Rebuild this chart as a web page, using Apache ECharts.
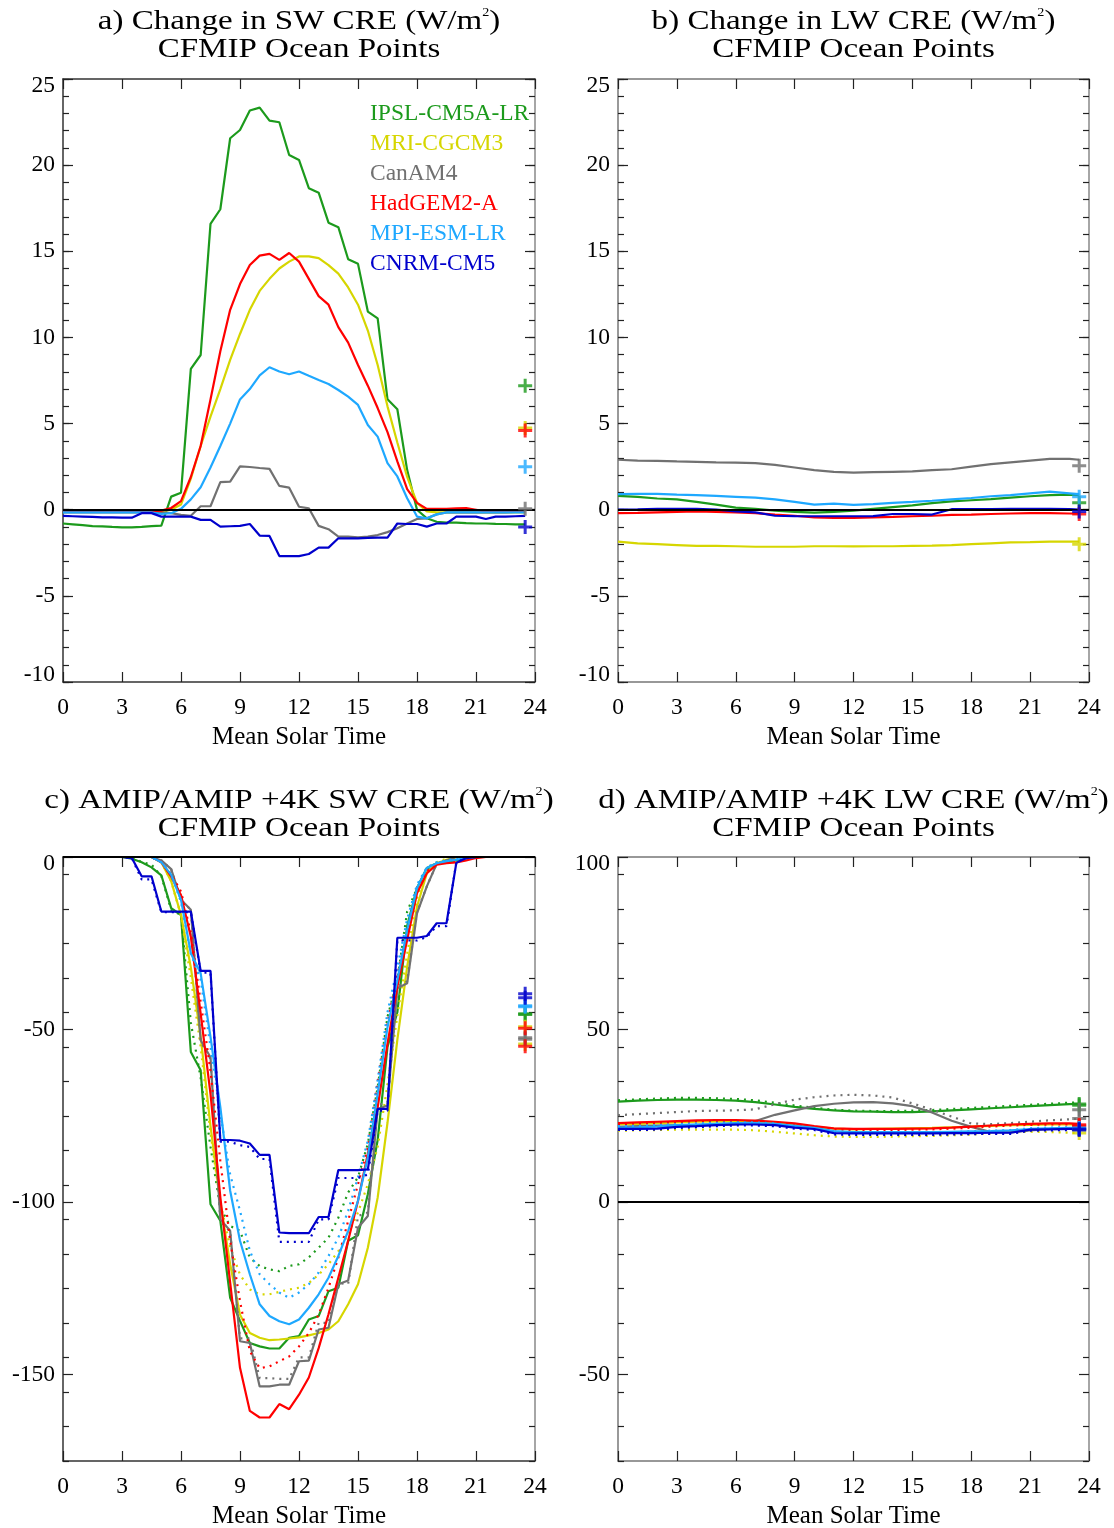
<!DOCTYPE html>
<html>
<head>
<meta charset="utf-8">
<script src="https://cdn.jsdelivr.net/npm/echarts@6/dist/echarts.min.js"></script>
<style>
  html, body { margin: 0; padding: 0; background: #fff; }
  #chart { width: 1114px; height: 1528px; }
</style>
</head>
<body>
<div id="chart"></div>
<script>
// ---- data ----
const HALF_HOURS = [0,0.5,1,1.5,2,2.5,3,3.5,4,4.5,5,5.5,6,6.5,7,7.5,8,8.5,9,9.5,10,10.5,11,11.5,
                    12,12.5,13,13.5,14,14.5,15,15.5,16,16.5,17,17.5,18,18.5,19,19.5,20,20.5,21,21.5,22,22.5,23,23.5];
const HOURS = [0,1,2,3,4,5,6,7,8,9,10,11,12,13,14,15,16,17,18,19,20,21,22,23,23.5];

const MODELS = ['IPSL-CM5A-LR', 'MRI-CGCM3', 'CanAM4', 'HadGEM2-A', 'MPI-ESM-LR', 'CNRM-CM5'];
const COLORS = ['#1c9a1c', '#d6d600', '#717171', '#ff0000', '#1ea8ff', '#0000cc'];

const X_TICKS = [0, 3, 6, 9, 12, 15, 18, 21, 24];
const CRE_CHANGE_TICKS = [-10, -5, 0, 5, 10, 15, 20, 25];
const SW_CRE_TICKS = [-150, -100, -50, 0];
const LW_CRE_TICKS = [-50, 0, 50, 100];

// a) change in SW CRE, half-hourly
const SW_CHANGE_IPSL = [-0.8,-0.85,-0.9,-0.95,-0.97,-1.0,-1.02,-1.03,-1.0,-0.95,-0.92,0.76,0.99,8.17,8.98,16.59,17.44,21.56,
  22.04,23.17,23.34,22.58,22.49,20.59,20.3,18.66,18.4,16.66,16.4,14.54,14.27,11.5,11.11,6.41,5.83,2.3,0.0,-0.5,
  -0.7,-0.75,-0.75,-0.78,-0.8,-0.8,-0.82,-0.83,-0.85,-0.85];
const SW_CHANGE_MRI = [-0.1,-0.1,-0.1,-0.1,-0.1,-0.1,-0.1,-0.1,-0.1,-0.1,-0.1,0.0,0.3,1.8,3.7,5.4,7.0,8.7,
  10.2,11.6,12.7,13.4,14.0,14.4,14.7,14.7,14.6,14.2,13.7,12.9,11.9,10.4,8.4,6.0,3.9,1.9,0.4,-0.1,
  -0.15,-0.15,-0.15,-0.15,-0.15,-0.15,-0.15,-0.15,-0.15,-0.15];
const SW_CHANGE_CANAM = [-0.15,-0.15,-0.15,-0.15,-0.15,-0.15,-0.15,-0.15,-0.15,-0.15,-0.15,-0.2,-0.3,-0.35,0.2,0.2,1.6,1.63,
  2.52,2.48,2.42,2.37,1.38,1.28,0.17,0.08,-0.94,-1.13,-1.56,-1.56,-1.6,-1.56,-1.47,-1.3,-1.08,-0.8,-0.54,-0.5,
  -0.27,-0.15,-0.15,-0.15,-0.15,-0.15,-0.15,-0.15,-0.12,-0.1];
const SW_CHANGE_HADGEM = [-0.1,-0.1,-0.1,-0.1,-0.1,-0.1,-0.1,-0.1,-0.1,-0.1,-0.05,0.1,0.5,1.9,3.7,6.4,9.2,11.6,
  13.1,14.2,14.75,14.85,14.5,14.9,14.4,13.4,12.4,11.9,10.6,9.7,8.4,7.2,5.9,4.5,2.8,1.2,0.4,0.05,
  0.05,0.05,0.08,0.1,0.0,-0.1,-0.1,-0.1,-0.1,-0.1];
const SW_CHANGE_MPI = [-0.15,-0.15,-0.15,-0.15,-0.15,-0.15,-0.15,-0.15,-0.15,-0.15,-0.25,-0.2,0.05,0.6,1.3,2.45,3.7,5.0,
  6.4,7.0,7.8,8.27,8.02,7.86,8.02,7.77,7.53,7.3,6.95,6.56,6.08,4.92,4.24,2.7,1.93,0.67,-0.4,-0.5,
  -0.27,-0.16,-0.15,-0.15,-0.15,-0.15,-0.15,-0.15,-0.15,-0.15];
const SW_CHANGE_CNRM = [-0.36,-0.38,-0.4,-0.42,-0.44,-0.45,-0.46,-0.46,-0.2,-0.2,-0.4,-0.4,-0.4,-0.4,-0.59,-0.59,-0.98,-0.96,
  -0.94,-0.83,-1.5,-1.52,-2.69,-2.69,-2.69,-2.57,-2.2,-2.2,-1.66,-1.66,-1.66,-1.64,-1.62,-1.62,-0.8,-0.83,-0.83,-0.98,
  -0.8,-0.8,-0.4,-0.4,-0.4,-0.54,-0.4,-0.4,-0.38,-0.36];
const SW_CHANGE_MEAN = [7.2, 4.75, 0.05, 4.6, 2.5, -1.0];

// b) change in LW CRE, hourly
const LW_CHANGE_IPSL = [0.8,0.75,0.65,0.6,0.45,0.3,0.12,0.05,-0.05,-0.12,-0.17,-0.12,-0.05,0.05,0.15,0.25,0.38,0.48,0.55,0.62,0.7,0.78,0.85,0.88,0.85];
const LW_CHANGE_MRI = [-1.85,-1.95,-2.0,-2.05,-2.1,-2.1,-2.12,-2.15,-2.15,-2.15,-2.12,-2.12,-2.13,-2.12,-2.12,-2.1,-2.08,-2.05,-2.0,-1.95,-1.9,-1.88,-1.85,-1.85,-1.85];
const LW_CHANGE_CANAM = [2.9,2.85,2.83,2.8,2.78,2.75,2.73,2.7,2.6,2.45,2.3,2.2,2.15,2.18,2.2,2.22,2.3,2.35,2.5,2.65,2.75,2.85,2.95,2.95,2.9];
const LW_CHANGE_HADGEM = [-0.2,-0.18,-0.15,-0.12,-0.1,-0.12,-0.15,-0.2,-0.28,-0.35,-0.45,-0.48,-0.48,-0.45,-0.42,-0.38,-0.35,-0.3,-0.28,-0.25,-0.22,-0.2,-0.2,-0.22,-0.23];
const LW_CHANGE_MPI = [0.9,0.92,0.92,0.88,0.85,0.8,0.75,0.7,0.6,0.45,0.3,0.35,0.28,0.32,0.4,0.45,0.52,0.6,0.68,0.78,0.85,0.95,1.05,0.95,0.9];
const LW_CHANGE_CNRM = [0.0,0.02,0.05,0.05,0.05,0.0,-0.1,-0.15,-0.35,-0.37,-0.38,-0.38,-0.38,-0.37,-0.25,-0.25,-0.28,0.03,0.03,0.03,0.05,0.05,0.05,0.03,0.0];
const LW_CHANGE_MEAN = [0.4, -2.0, 2.55, -0.25, 0.75, -0.1];

// c) SW CRE, AMIP (solid) and AMIP+4K (dotted), half-hourly
const SW_IPSL_AMIP = [0,0,0,0,0,0,0,-0.5,-1.5,-3,-5.3,-14.8,-16.8,-56.5,-61.8,-100.6,-105.4,-127.7,
  -134.4,-140.8,-141.8,-142.4,-142.4,-139.3,-138.8,-134,-133,-125.8,-124.8,-111.2,-109.6,-97.7,-82,-55,-45,-20,-9,-3.2,
  -1.8,-1.3,-1.0,-0.5,0,0,0,0,0,0];
const SW_IPSL_P4K = [0,0,0,0,0,0,0,0,-1.5,-2.2,-5.5,-15.3,-16.8,-48,-64,-84,-101.6,-106.9,
  -108.3,-116.1,-118.5,-119.5,-120,-118.5,-118,-116,-113.2,-110.3,-104.5,-97.2,-92.8,-83.1,-66.7,-46.3,-35.7,-15.8,-9,-3.7,
  -1.8,-1.2,-0.8,-0.3,0,0,0,0,0,0];
const SW_MRI_AMIP = [0,0,0,0,0,0,0,0,0,0,-1.5,-7,-16.8,-32,-52,-78,-100,-118,
  -132.6,-137.9,-139.3,-140,-139.8,-139.5,-139.2,-138.6,-137.9,-136.9,-134.5,-129.6,-123.8,-113.2,-98.7,-77,-53,-31.8,-14.4,-4.7,
  -1.8,-0.8,0,0,0,0,0,0,0,0];
const SW_MRI_P4K = [0,0,0,0,0,0,0,0,0,0,-1.5,-7,-17,-35,-55,-80,-100,-113,
  -121,-125.3,-126.7,-126.7,-126,-125.3,-124.8,-123.4,-121,-118,-114.2,-109.3,-103,-94.8,-84,-66,-46,-28,-12,-4,
  -1.5,-0.5,0,0,0,0,0,0,0,0];
const SW_CANAM_AMIP = [0,0,0,0,0,0,0,0,0,0,-1.0,-3.5,-12.4,-15.3,-53.1,-58,-105,-108.3,
  -140.3,-140.8,-153.4,-153.4,-152.9,-152.9,-146.1,-145.9,-136.9,-136.4,-123.8,-122.7,-107.4,-104,-73,-72,-38,-36.6,-16.3,-8.5,
  -2,-1,0,0,0,0,0,0,0,0];
const SW_CANAM_P4K = [0,0,0,0,0,0,0,0,0,0,-1.0,-3.5,-12.4,-15.3,-53.5,-58.5,-105.5,-108.5,
  -139.5,-139.5,-151,-151,-151.2,-151.2,-145,-145,-135,-135,-123.5,-123.7,-104,-103,-72,-71,-37.5,-36,-16,-8.5,
  -2,-1,0,0,0,0,0,0,0,0];
const SW_HADGEM_AMIP = [0,0,0,0,0,0,0,0,0,0,-1.5,-5.7,-11,-23.1,-45.4,-68.6,-98.6,-123.3,
  -148,-160.5,-162.4,-162.4,-158.5,-160,-155.8,-150.8,-142.3,-132.5,-121.9,-111.2,-99.6,-86,-72.5,-54.1,-37.6,-24,-10.5,-4.7,
  -2.2,-1.8,-1.6,-1.0,-0.3,0,0,0,0,0];
const SW_HADGEM_P4K = [0,0,0,0,0,0,0,0,0,0,-1.5,-5,-10,-22,-42,-62,-88,-111.2,
  -128.7,-143.2,-148.1,-147.6,-146.1,-144.7,-141.8,-137.9,-132.6,-124.8,-116.1,-105.4,-94.8,-84.1,-65,-48,-34,-22,-9,-4,
  -2,-1.5,-1.2,-0.6,0,0,0,0,0,0];
const SW_MPI_AMIP = [0,0,0,0,0,0,0,0,0,0,-1.5,-5.2,-12.4,-27.9,-33.7,-52.1,-72.5,-96.7,
  -111.2,-120.9,-129.6,-133,-134.5,-135.4,-134,-130.6,-126.7,-121.9,-115.6,-108.3,-99.6,-87,-68.6,-49.3,-35.7,-21.1,-9,-3.2,
  -1.8,-1.2,-0.8,-0.3,0,0,0,0,0,0];
const SW_MPI_P4K = [0,0,0,0,0,0,0,0,0,0,-1.5,-5,-13,-28,-35.6,-55,-74.4,-92,
  -102.5,-114.1,-120.9,-123.8,-126.2,-127.7,-126.2,-123.8,-120.4,-115.6,-110.3,-102.5,-92.8,-82.2,-64.7,-45,-32,-18,-8,-3,
  -1.5,-1,-0.5,0,0,0,0,0,0,0];
const SW_CNRM_AMIP = [0,0,0,0,0,0,0,-0.3,-5.6,-5.6,-15.8,-15.8,-15.8,-15.8,-33,-33,-82,-82,
  -82.2,-83,-86.3,-86.3,-108.8,-109,-109,-109,-104.3,-104.3,-90.7,-90.7,-90.7,-90.5,-73,-73,-23.4,-23.4,-23.4,-22.9,
  -19.2,-19.2,-1.7,-0.3,0,0,0,0,0,0];
const SW_CNRM_P4K = [0,0,0,0,0,0,0,-0.3,-6.5,-6.5,-16,-16,-16,-16,-33.5,-33.5,-82.5,-82.5,
  -83.5,-84,-87.5,-87.5,-111.5,-111.5,-111.5,-111.5,-105,-105,-93,-93,-93,-92,-73.5,-73.5,-24.2,-24.2,-24.2,-23.2,
  -20,-20,-1.5,-0.3,0,0,0,0,0,0];
const SW_MEAN_AMIP = [-45.4, -49.2, -52.4, -49.6, -43.1, -39.6];
const SW_MEAN_P4K = [-45.6, -54.2, -52.8, -54.8, -43.4, -40.8];

// d) LW CRE, AMIP (solid) and AMIP+4K (dotted), hourly
const LW_IPSL_AMIP = [29.1,29.4,29.6,29.7,29.7,29.6,29.4,29.0,28.3,27.6,27.0,26.6,26.3,26.2,26.1,26.1,26.3,26.6,26.9,27.2,27.5,27.8,28.1,28.4,28.5];
const LW_IPSL_P4K = [29.5,29.8,30.0,30.2,30.2,30.1,29.9,29.5,28.8,28.0,27.3,26.8,26.5,26.4,26.4,26.5,26.7,27.0,27.3,27.6,27.9,28.2,28.5,28.8,28.9];
const LW_MRI_AMIP = [22.5,22.7,22.9,23.1,23.3,23.4,23.4,23.2,22.9,22.4,21.8,21.3,21.1,21.2,21.3,21.4,21.5,21.7,21.9,22.1,22.3,22.4,22.5,22.5,22.4];
const LW_MRI_P4K = [20.7,20.8,20.9,21.0,21.0,21.0,21.0,20.8,20.4,19.9,19.4,19.0,18.9,18.9,19.0,19.1,19.2,19.4,19.6,19.9,20.2,20.4,20.3,20.1,20.0];
const LW_CANAM_AMIP = [21.8,22.0,22.2,22.3,22.4,22.4,22.5,23.5,25.3,26.6,27.8,28.5,28.9,29.0,28.6,27.8,26.0,23.6,21.8,20.3,20.2,20.8,21.2,21.4,21.5];
const LW_CANAM_P4K = [25.2,25.5,25.8,26.1,26.4,26.5,26.6,26.9,28.4,29.7,30.4,30.9,31.1,30.9,30.3,28.6,26.8,24.8,22.8,22.6,22.9,23.3,23.7,24.0,24.2];
const LW_HADGEM_AMIP = [22.9,23.1,23.3,23.5,23.7,23.8,23.8,23.6,23.3,22.8,22.0,21.4,21.2,21.2,21.2,21.3,21.4,21.6,21.9,22.2,22.5,22.7,22.8,22.8,22.7];
const LW_HADGEM_P4K = [22.6,22.8,23.0,23.2,23.4,23.5,23.5,23.3,23.0,22.5,21.7,21.1,20.9,20.9,20.9,21.0,21.1,21.3,21.6,21.9,22.2,22.4,22.5,22.5,22.4];
const LW_MPI_AMIP = [21.6,21.7,21.9,22.3,22.5,22.7,22.9,22.9,22.7,22.1,21.5,20.6,20.3,20.3,20.3,20.3,20.3,20.4,20.5,20.6,20.8,21.2,21.4,21.5,21.5];
const LW_MPI_P4K = [22.0,22.1,22.3,22.6,22.8,23.0,23.1,23.1,22.8,22.0,21.3,20.3,20.1,20.0,20.0,20.0,20.1,20.3,20.5,20.7,20.9,21.4,21.6,21.7,21.7];
const LW_CNRM_AMIP = [21.2,21.2,21.3,21.8,22.0,22.3,22.5,22.5,22.3,21.6,21.2,20.0,19.9,19.9,19.9,19.9,19.9,20.0,20.0,20.1,20.1,21.0,21.1,21.2,21.2];
const LW_CNRM_P4K = [20.9,20.9,21.0,21.5,21.7,22.0,22.2,22.2,22.0,21.3,20.9,19.6,19.5,19.5,19.5,19.5,19.5,19.6,19.7,19.8,19.8,20.7,20.8,20.9,20.9];
const LW_MEAN_AMIP = [28.1, 21.0, 26.8, 22.4, 21.5, 21.2];
const LW_MEAN_P4K = [28.4, 20.0, 24.2, 22.1, 21.3, 20.9];

// ---- layout / style ----
const FONT = '"Liberation Serif", "Times New Roman", serif';
const PLUS = 'path://M5.5,0h3v5.5h5.5v3h-5.5v5.5h-3v-5.5h-5.5v-3h5.5z';

const PANELS = [
    { grid: { left: 63, top: 79, width: 472, height: 603 }, min: -10, max: 25, majors: CRE_CHANGE_TICKS, minorStep: 1,
      title: 'a) Change in SW CRE (W/m{s|2})', axisColor: '#333' },
    { grid: { left: 618, top: 79, width: 471, height: 603 }, min: -10, max: 25, majors: CRE_CHANGE_TICKS, minorStep: 1,
      title: 'b) Change in LW CRE (W/m{s|2})', axisColor: '#777' },
    { grid: { left: 63, top: 857, width: 472, height: 604 }, min: -175, max: 0, majors: SW_CRE_TICKS, minorStep: 10,
      title: 'c) AMIP/AMIP +4K SW CRE (W/m{s|2})', axisColor: '#333' },
    { grid: { left: 618, top: 857, width: 471, height: 604 }, min: -75, max: 100, majors: LW_CRE_TICKS, minorStep: 10,
      title: 'd) AMIP/AMIP +4K LW CRE (W/m{s|2})', axisColor: '#777' }
];

function stepsBetween(min, max, step) {
    const out = [];
    for (let v = min; v <= max + 1e-9; v += step) out.push(v);
    return out;
}

const grids = [], xAxes = [], yAxes = [], series = [], graphics = [];

PANELS.forEach((p, g) => {
    grids.push({ ...p.grid, outerBoundsMode: 'none', containLabel: false });
    const lineStyle = { color: p.axisColor, width: 1.5 };
    const tickStyle = { color: '#222', width: 1.2 };

    // bottom + top x axes
    xAxes.push({
        gridIndex: g, type: 'value', min: 0, max: 24, interval: 3, position: 'bottom',
        axisLine: { show: true, onZero: false, lineStyle },
        axisTick: { show: true, inside: true, length: 10, lineStyle: tickStyle },
        axisLabel: { show: true, color: '#000', fontFamily: FONT, fontSize: 23.5, margin: 14 },
        splitLine: { show: false },
        name: 'Mean Solar Time', nameLocation: 'middle', nameGap: 43,
        nameTextStyle: { color: '#000', fontFamily: FONT, fontSize: 25 }
    });
    xAxes.push({
        gridIndex: g, type: 'value', min: 0, max: 24, interval: 3, position: 'top',
        axisLine: { show: true, onZero: false, lineStyle },
        axisTick: { show: true, inside: true, length: 10, lineStyle: tickStyle },
        axisLabel: { show: false }, splitLine: { show: false }
    });

    const minors = stepsBetween(p.min, p.max, p.minorStep);
    const labelFmt = v => v === p.max ? '{hi|' + v + '}' : (v === p.min ? '{lo|' + v + '}' : String(v));
    ['left', 'right'].forEach(side => {
        yAxes.push({
            gridIndex: g, type: 'value', min: p.min, max: p.max, position: side,
            axisLine: { show: true, onZero: false, lineStyle: side === 'right' ? { color: '#888', width: 1.5 } : lineStyle },
            axisTick: { show: true, inside: true, length: 10, customValues: p.majors, lineStyle: tickStyle },
            axisLabel: side === 'left' ? {
                show: true, customValues: p.majors, formatter: labelFmt, margin: 8,
                color: '#000', fontFamily: FONT, fontSize: 23.5,
                rich: { hi: { padding: [14, 0, 0, 0] }, lo: { padding: [0, 0, 14, 0] } }
            } : { show: false },
            splitLine: { show: false }
        });
        yAxes.push({
            gridIndex: g, type: 'value', min: p.min, max: p.max, position: side,
            axisLine: { show: false, onZero: false },
            axisTick: { show: true, inside: true, length: 6, customValues: minors, lineStyle: tickStyle },
            axisLabel: { show: false }, splitLine: { show: false }
        });
    });

    // zero reference line
    series.push({
        type: 'line', xAxisIndex: 2 * g, yAxisIndex: 4 * g, data: [], z: 5, silent: true,
        markLine: {
            silent: true, symbol: 'none', animation: false, label: { show: false },
            lineStyle: { color: '#000', width: 2, type: 'solid' },
            data: [{ yAxis: 0 }]
        }
    });

    // titles (text looks horizontally stretched in the source, so scale it)
    const cx = p.grid.left + p.grid.width / 2;
    const ty = g < 2 ? 22 : 801;
    graphics.push({
        type: 'text', x: cx, y: ty, scaleX: 1.18, z: 10,
        style: {
            text: p.title, fill: '#000', font: '28px ' + FONT,
            align: 'center', verticalAlign: 'middle', textAlign: 'center', textVerticalAlign: 'middle',
            rich: { s: { fontSize: 12, fontFamily: FONT, padding: [0, 0, 18, 0] } }
        }
    });
    graphics.push({
        type: 'text', x: cx, y: ty + 28, scaleX: 1.18, z: 10,
        style: {
            text: 'CFMIP Ocean Points', fill: '#000', font: '28px ' + FONT,
            align: 'center', verticalAlign: 'middle', textAlign: 'center', textVerticalAlign: 'middle'
        }
    });
});

function addLine(g, xs, ys, color, dotted) {
    series.push({
        type: 'line', xAxisIndex: 2 * g, yAxisIndex: 4 * g,
        data: xs.map((t, i) => [t, ys[i]]),
        showSymbol: false, symbol: 'none', z: 3,
        lineStyle: { color, width: 2.2, type: dotted ? [2, 5] : 'solid' }
    });
}
function addMeans(g, values, color) {
    series.push({
        type: 'scatter', xAxisIndex: 2 * g, yAxisIndex: 4 * g, z: 6,
        symbol: PLUS, symbolSize: 14, itemStyle: { color },
        data: values.map(v => [23.5, v])
    });
}

const SW_CHANGE = [SW_CHANGE_IPSL, SW_CHANGE_MRI, SW_CHANGE_CANAM, SW_CHANGE_HADGEM, SW_CHANGE_MPI, SW_CHANGE_CNRM];
const LW_CHANGE = [LW_CHANGE_IPSL, LW_CHANGE_MRI, LW_CHANGE_CANAM, LW_CHANGE_HADGEM, LW_CHANGE_MPI, LW_CHANGE_CNRM];
const SW_AMIP = [SW_IPSL_AMIP, SW_MRI_AMIP, SW_CANAM_AMIP, SW_HADGEM_AMIP, SW_MPI_AMIP, SW_CNRM_AMIP];
const SW_P4K = [SW_IPSL_P4K, SW_MRI_P4K, SW_CANAM_P4K, SW_HADGEM_P4K, SW_MPI_P4K, SW_CNRM_P4K];
const LW_AMIP = [LW_IPSL_AMIP, LW_MRI_AMIP, LW_CANAM_AMIP, LW_HADGEM_AMIP, LW_MPI_AMIP, LW_CNRM_AMIP];
const LW_P4K = [LW_IPSL_P4K, LW_MRI_P4K, LW_CANAM_P4K, LW_HADGEM_P4K, LW_MPI_P4K, LW_CNRM_P4K];

MODELS.forEach((m, i) => {
    const c = COLORS[i];
    addLine(0, HALF_HOURS, SW_CHANGE[i], c, false);
    addLine(1, HOURS, LW_CHANGE[i], c, false);
    addLine(2, HALF_HOURS, SW_P4K[i], c, true);
    addLine(2, HALF_HOURS, SW_AMIP[i], c, false);
    addLine(3, HOURS, LW_P4K[i], c, true);
    addLine(3, HOURS, LW_AMIP[i], c, false);
});
// mean markers at the right edge
MODELS.forEach((m, i) => {
    addMeans(0, [SW_CHANGE_MEAN[i]], COLORS[i]);
    addMeans(1, [LW_CHANGE_MEAN[i]], COLORS[i]);
    addMeans(2, [SW_MEAN_AMIP[i], SW_MEAN_P4K[i]], COLORS[i]);
    addMeans(3, [LW_MEAN_AMIP[i], LW_MEAN_P4K[i]], COLORS[i]);
});

// legend in panel a
MODELS.forEach((m, i) => {
    graphics.push({
        type: 'text', x: 370, y: 114 + 30 * i, z: 10,
        style: {
            text: m, fill: COLORS[i], font: '23.5px ' + FONT,
            align: 'left', verticalAlign: 'middle', textAlign: 'left', textVerticalAlign: 'middle'
        }
    });
});

const chart = echarts.init(document.getElementById('chart'));
chart.setOption({
    backgroundColor: '#fff',
    animation: false,
    grid: grids,
    xAxis: xAxes,
    yAxis: yAxes,
    series,
    graphic: { elements: graphics }
});
</script>
</body>
</html>
